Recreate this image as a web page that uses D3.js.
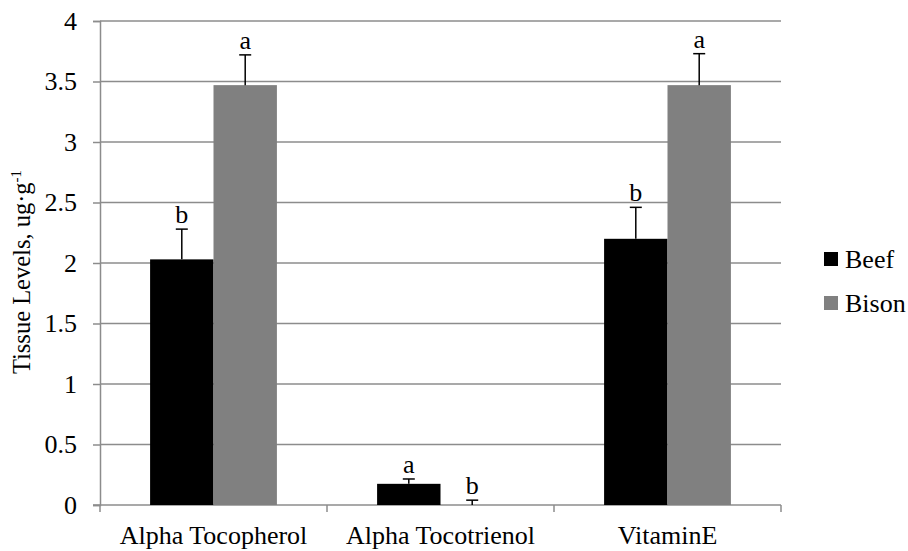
<!DOCTYPE html>
<html lang="en">
<head>
<meta charset="UTF-8">
<title>Tissue levels</title>
<script src="https://cdn.jsdelivr.net/npm/d3@7"></script>
<style>
  body { margin: 0; background: #fff; }
  text { font-family: "Liberation Serif", "Times New Roman", serif; }
</style>
</head>
<body>
<svg id="chart" width="908" height="551"></svg>
<script>
// data
var categories = ['Alpha Tocopherol', 'Alpha Tocotrienol', 'VitaminE'];
var series = ['Beef', 'Bison'];
var beefValues = [2.03, 0.175, 2.2];
var bisonValues = [3.47, 0.0, 3.47];
var beefErr = [0.25, 0.04, 0.26];
var bisonErr = [0.25, 0.04, 0.26];
var beefLetters = ['b', 'a', 'b'];
var bisonLetters = ['a', 'b', 'a'];
var yTicks = [0, 0.5, 1, 1.5, 2, 2.5, 3, 3.5, 4];

var colors = { Beef: '#000000', Bison: '#808080' };

var svg = d3.select('#chart');
var plotLeft = 100, plotRight = 781, plotTop = 21, plotBottom = 505;
var fs = '26px';

var x = d3.scaleBand().domain(categories).range([plotLeft, plotRight]);
var xs = d3.scaleBand().domain(series).range([0, x.bandwidth()]).paddingInner(0).paddingOuter(0.79);
var y = d3.scaleLinear().domain([0, 4]).range([plotBottom, plotTop]);

// gridlines
svg.append('g')
  .selectAll('line')
  .data(yTicks.slice(1))
  .enter().append('line')
  .attr('x1', plotLeft).attr('x2', plotRight)
  .attr('y1', d => y(d)).attr('y2', d => y(d))
  .attr('stroke', '#8c8c8c').attr('stroke-width', 1.5);

// y axis
var yAxis = svg.append('g')
  .attr('transform', `translate(${plotLeft},0)`)
  .call(d3.axisLeft(y).tickValues(yTicks).tickSize(7).tickPadding(16).tickFormat(d3.format('')));
yAxis.attr('font-size', null).attr('font-family', null);
yAxis.select('.domain').attr('stroke', '#8c8c8c').attr('stroke-width', 1.5);
yAxis.selectAll('.tick line').attr('stroke', '#8c8c8c').attr('stroke-width', 1.5);
yAxis.selectAll('.tick text').style('font-size', fs).attr('fill', '#000');

// x axis
var xAxis = svg.append('g')
  .attr('transform', `translate(0,${plotBottom})`)
  .call(d3.axisBottom(x).tickSize(0).tickPadding(21));
xAxis.attr('font-size', null).attr('font-family', null);
xAxis.select('.domain').remove();
xAxis.append('line').attr('x1', plotLeft - 7).attr('x2', plotRight)
  .attr('stroke', '#8c8c8c').attr('stroke-width', 1.5);
xAxis.selectAll('.catTick')
  .data(categories.concat(['end']))
  .enter().append('line')
  .attr('x1', (d, i) => plotLeft + i * x.step()).attr('x2', (d, i) => plotLeft + i * x.step())
  .attr('y1', 0).attr('y2', 7)
  .attr('stroke', '#8c8c8c').attr('stroke-width', 1.5);
xAxis.selectAll('.tick text').style('font-size', fs).attr('fill', '#000');

// bars
var rows = [];
categories.forEach(function (c, i) {
  rows.push({ cat: c, s: 'Beef', v: beefValues[i], e: beefErr[i], l: beefLetters[i] });
  rows.push({ cat: c, s: 'Bison', v: bisonValues[i], e: bisonErr[i], l: bisonLetters[i] });
});

var g = svg.append('g');
g.selectAll('rect')
  .data(rows)
  .enter().append('rect')
  .attr('x', d => x(d.cat) + xs(d.s))
  .attr('width', xs.bandwidth())
  .attr('y', d => y(d.v))
  .attr('height', d => y(0) - y(d.v))
  .attr('fill', d => colors[d.s]);

// error bars
var cx = d => x(d.cat) + xs(d.s) + xs.bandwidth() / 2;
g.selectAll('.err')
  .data(rows)
  .enter().append('line')
  .attr('x1', cx).attr('x2', cx)
  .attr('y1', d => y(d.v)).attr('y2', d => y(d.v + d.e))
  .attr('stroke', '#000').attr('stroke-width', 1.5);
g.selectAll('.cap')
  .data(rows)
  .enter().append('line')
  .attr('x1', d => cx(d) - 6).attr('x2', d => cx(d) + 6)
  .attr('y1', d => y(d.v + d.e)).attr('y2', d => y(d.v + d.e))
  .attr('stroke', '#000').attr('stroke-width', 1.5);

// significance letters
g.selectAll('.letter')
  .data(rows)
  .enter().append('text')
  .attr('x', cx)
  .attr('y', d => y(d.v + d.e) - 6)
  .attr('text-anchor', 'middle')
  .style('font-size', fs)
  .text(d => d.l);

// y title
svg.append('text')
  .attr('transform', 'translate(30,272) rotate(-90)')
  .attr('text-anchor', 'middle')
  .style('font-size', '24.5px')
  .html('Tissue Levels, ug·g<tspan dy="-9" style="font-size:15px">-1</tspan>');

// legend
var legend = svg.append('g').attr('transform', 'translate(824,259)');
legend.selectAll('g')
  .data(series)
  .enter().append('g')
  .attr('transform', (d, i) => `translate(0,${i * 44})`)
  .each(function (d) {
    var item = d3.select(this);
    item.append('rect').attr('x', 0).attr('y', -7).attr('width', 14).attr('height', 14)
      .attr('fill', colors[d]);
    item.append('text').attr('x', 21).attr('y', 9).style('font-size', fs).text(d);
  });
</script>
</body>
</html>
